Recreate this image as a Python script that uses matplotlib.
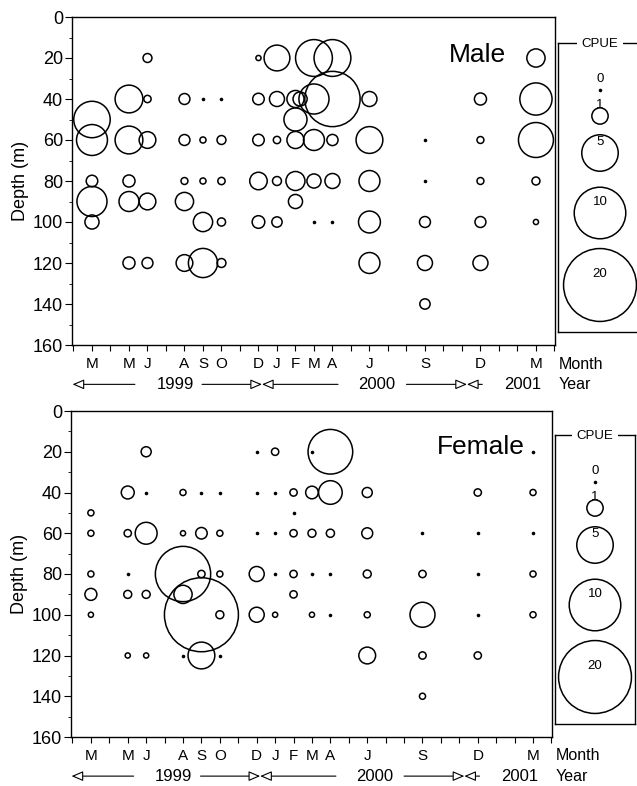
import matplotlib
matplotlib.use('Agg')
import matplotlib.pyplot as plt
from matplotlib import font_manager
import numpy as np

names = {f.name for f in font_manager.fontManager.ttflist}
FONT = 'Liberation Sans Narrow' if 'Liberation Sans Narrow' in names else 'Liberation Sans'
plt.rcParams['font.family'] = [FONT, 'DejaVu Sans']

# ---------------- data ----------------
# month index: Jan 1999 = 1
month_ticks = list(range(2, 29))
month_label_pos = [3, 5, 6, 8, 9, 10, 12, 13, 14, 15, 16, 18, 21, 24, 27]
month_label_txt = ['M', 'M', 'J', 'A', 'S', 'O', 'D', 'J', 'F', 'M', 'A', 'J', 'S', 'D', 'M']
depth_ticks = [0, 20, 40, 60, 80, 100, 120, 140, 160]
year_labels = ['1999', '2000', '2001']
year_label_pos = [7.5, 18.4, 26.3]
legend_cpue = [0, 1, 5, 10, 20]
legend_labels = ['0', '1', '5', '10', '20']

male_month = [3, 3, 3, 3, 3,
              5, 5, 5, 5, 5,
              6, 6, 6, 6, 6,
              8, 8, 8, 8, 8,
              9, 9, 9, 9, 9,
              10, 10, 10, 10, 10,
              12, 12, 12, 12, 12,
              13, 13, 13, 13, 13,
              14, 14, 14, 14, 14, 14.25,
              15, 15, 15, 15, 15,
              16, 16, 16, 16, 16,
              18, 18, 18, 18, 18,
              21, 21, 21, 21, 21,
              24, 24, 24, 24, 24,
              27, 27, 27, 27, 27]
male_depth = [50, 60, 80, 90, 100,
              40, 60, 80, 90, 120,
              20, 40, 60, 90, 120,
              40, 60, 80, 90, 120,
              40, 60, 80, 100, 120,
              40, 60, 80, 100, 120,
              20, 40, 60, 80, 100,
              20, 40, 60, 80, 100,
              40, 50, 60, 80, 90, 40,
              20, 40, 60, 80, 100,
              20, 40, 60, 80, 100,
              40, 60, 80, 100, 120,
              60, 80, 100, 120, 140,
              40, 60, 80, 100, 120,
              20, 40, 60, 80, 100]
male_cpue = [5.0, 3.6, 0.5, 3.4, 0.75,
             2.9, 2.9, 0.55, 1.5, 0.55,
             0.3, 0.2, 1.05, 1.05, 0.45,
             0.45, 0.45, 0.18, 1.25, 1.05,
             0, 0.14, 0.14, 1.4, 3.2,
             0, 0.3, 0.2, 0.25, 0.3,
             0.1, 0.5, 0.5, 1.15, 0.6,
             2.5, 0.85, 0.2, 0.3, 0.4,
             1.1, 2.0, 1.1, 1.36, 0.75, 0.75,
             5.1, 3.4, 1.65, 0.75, 0,
             5.1, 11.5, 0.47, 0.85, 0,
             0.85, 2.7, 1.65, 1.8, 1.65,
             0, 0, 0.45, 0.85, 0.4,
             0.55, 0.18, 0.18, 0.45, 0.85,
             1.25, 3.9, 4.6, 0.24, 0.1]

female_month = [3, 3, 3, 3, 3,
                5, 5, 5, 5, 5,
                6, 6, 6, 6, 6,
                8, 8, 8, 8, 8,
                9, 9, 9, 9, 9,
                10, 10, 10, 10, 10,
                12, 12, 12, 12, 12,
                13, 13, 13, 13, 13,
                14, 14, 14, 14, 14,
                15, 15, 15, 15, 15,
                16, 16, 16, 16, 16,
                18, 18, 18, 18, 18,
                21, 21, 21, 21, 21,
                24, 24, 24, 24, 24,
                27, 27, 27, 27, 27]
female_depth = [50, 60, 80, 90, 100,
                40, 60, 80, 90, 120,
                20, 40, 60, 90, 120,
                40, 60, 80, 90, 120,
                40, 60, 80, 100, 120,
                40, 60, 80, 100, 120,
                20, 40, 60, 80, 100,
                20, 40, 60, 80, 100,
                40, 50, 60, 80, 90,
                20, 40, 60, 80, 100,
                20, 40, 60, 80, 100,
                40, 60, 80, 100, 120,
                60, 80, 100, 120, 140,
                40, 60, 80, 100, 120,
                20, 40, 60, 80, 100]
female_cpue = [0.14, 0.14, 0.14, 0.54, 0.1,
               0.63, 0.2, 0, 0.24, 0.1,
               0.38, 0, 1.8, 0.24, 0.1,
               0.14, 0.1, 11.5, 1.25, 0,
               0, 0.5, 0.2, 20.6, 2.7,
               0, 0.14, 0.14, 0.24, 0,
               0, 0, 0, 0.85, 0.85,
               0.2, 0, 0, 0, 0.1,
               0.2, 0, 0.2, 0.2, 0.2,
               0, 0.6, 0.24, 0, 0.1,
               7.5, 2.1, 0.25, 0, 0,
               0.38, 0.45, 0.24, 0.14, 1.06,
               0, 0.2, 2.35, 0.2, 0.14,
               0.2, 0, 0, 0, 0.2,
               0, 0.14, 0, 0.14, 0.14]

# ---------------- style ----------------
DPI = 100
W, H = 637, 786
PX_PER_SQRT = 16.3      # circle diameter in px per sqrt(CPUE)
DOT_PX = 3.6
LW = 1.1


def sizes(c):
    c = np.asarray(c, float)
    d_pt = PX_PER_SQRT * np.sqrt(c) * 72.0 / DPI
    return d_pt ** 2


def draw_bubbles(ax, m, d, c):
    m = np.asarray(m, float); d = np.asarray(d, float); c = np.asarray(c, float)
    pos = c > 0
    ax.scatter(m[pos], d[pos], s=sizes(c[pos]), facecolors='none',
               edgecolors='black', linewidths=LW, zorder=3, clip_on=False)
    ax.scatter(m[~pos], d[~pos], s=(DOT_PX * 72 / DPI) ** 2, c='black',
               linewidths=0, zorder=3, clip_on=False)


def px_axes(l, t, r, b):
    return [l / W, 1 - b / H, (r - l) / W, (b - t) / H]


def style_main(ax, label, label_xy):
    ax.set_xlim(1.92, 28.03)
    ax.set_ylim(160, 0)
    ax.set_xticks(month_ticks)
    lab = {p: t for p, t in zip(month_label_pos, month_label_txt)}
    ax.set_xticklabels([lab.get(p, '') for p in month_ticks], fontsize=11)
    ax.tick_params(axis='x', direction='out', length=4, width=0.8, pad=5)
    ax.set_yticks(depth_ticks)
    ax.set_yticklabels([str(v) for v in depth_ticks], fontsize=13)
    ax.set_yticks(np.arange(10, 160, 20), minor=True)
    ax.tick_params(axis='y', which='major', direction='out', length=5, width=0.8, pad=1.5)
    ax.tick_params(axis='y', which='minor', direction='out', length=2.5, width=0.6)
    for s in ax.spines.values():
        s.set_linewidth(1.0)
    ax.set_ylabel('Depth (m)', fontsize=13, labelpad=3)
    ax.text(label_xy[0], label_xy[1], label, transform=ax.transAxes,
            fontsize=19, ha='center', va='center')
    tr = ax.get_xaxis_transform()
    ax.text(1.008, -0.058, 'Month', transform=ax.transAxes, fontsize=11.5,
            ha='left', va='center')
    ax.text(1.008, -0.12, 'Year', transform=ax.transAxes, fontsize=11.5,
            ha='left', va='center')
    yr = -0.12
    for t, p in zip(year_labels, year_label_pos):
        ax.text(p, yr, t, transform=tr, fontsize=12, ha='center', va='center')
    arrows = [(5.32, 1.95), (8.95, 12.19), (16.3, 12.19), (20.0, 23.27), (24.1, 23.27)]
    for tail, head in arrows:
        ax.annotate('', xy=(head, yr), xycoords=tr, xytext=(tail, yr), textcoords=tr,
                    arrowprops=dict(arrowstyle='-|>,head_length=0.7,head_width=0.3',
                                    fc='white', ec='black', lw=0.8,
                                    mutation_scale=10, shrinkA=0, shrinkB=0),
                    annotation_clip=False)


def draw_legend(ax, right_spine=True):
    ax.set_xlim(0, 1)
    ax.set_ylim(289, 0)
    ax.set_xticks([]); ax.set_yticks([])
    ax.spines['right'].set_visible(right_spine)
    for s in ax.spines.values():
        s.set_linewidth(1.0)
    ypos = [47, 73, 110, 170, 242]
    for c, lab, y in zip(legend_cpue, legend_labels, ypos):
        if c > 0:
            ax.scatter([0.5], [y], s=sizes([c]), facecolors='none', edgecolors='black',
                       linewidths=LW, zorder=3)
        else:
            ax.scatter([0.5], [y], s=(DOT_PX * 72 / DPI) ** 2, c='black', linewidths=0, zorder=3)
        ax.text(0.5, y - 11, lab, fontsize=9.5, ha='center', va='center', zorder=4)
    ax.text(0.5, 1, 'CPUE', fontsize=9.5, ha='center', va='center', zorder=5,
            bbox=dict(fc='white', ec='none', pad=3), clip_on=False)


fig = plt.figure(figsize=(W / DPI, H / DPI), dpi=DPI)

ax1 = fig.add_axes(px_axes(72, 17, 555, 345))
draw_bubbles(ax1, male_month, male_depth, male_cpue)
style_main(ax1, 'Male', (0.84, 0.884))

ax2 = fig.add_axes(px_axes(71, 411, 552, 737))
draw_bubbles(ax2, female_month, female_depth, female_cpue)
style_main(ax2, 'Female', (0.852, 0.89))

lg1 = fig.add_axes(px_axes(558, 43, 642, 332))
draw_legend(lg1, right_spine=False)
lg2 = fig.add_axes(px_axes(555, 435, 635, 724))
draw_legend(lg2, right_spine=True)

fig.savefig('out.png', dpi=DPI)
